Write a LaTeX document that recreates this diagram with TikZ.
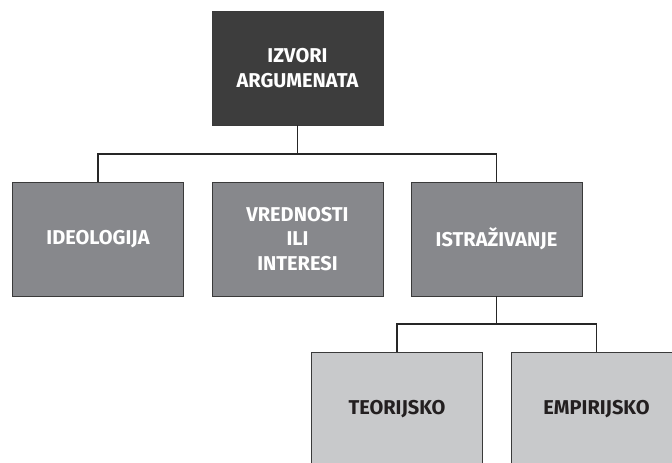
\documentclass[tikz,border=0pt]{standalone}
\usepackage{fontspec}
\setmainfont{Fira Sans}
\definecolor{topfill}{HTML}{3D3D3D}
\definecolor{midfill}{HTML}{87888C}
\definecolor{lowfill}{HTML}{C8C9CB}
\definecolor{edge}{HTML}{3A3A3A}
\definecolor{lowtext}{HTML}{231F20}
\begin{document}
\begin{tikzpicture}[x=1pt,y=-1pt,
  box/.style={draw=edge,line width=0.9pt,minimum width=171pt,minimum height=114pt,
    align=center,inner sep=0pt,font=\fontsize{20}{24.5}\selectfont\bfseries},
  topbox/.style={box,fill=topfill,text=white},
  midbox/.style={box,fill=midfill,text=white},
  lowbox/.style={box,fill=lowfill,text=lowtext},
  link/.style={draw=black!85,line width=1.3pt}]
\useasboundingbox (0,0) rectangle (672,463);
\clip (0,0) rectangle (672,463);
\node[topbox] (root) at (297.5,68) {IZVORI\\ARGUMENATA};
\node[midbox] (ideo) at (98,239) {IDEOLOGIJA};
\node[midbox] (vred) at (297.5,239) {VREDNOSTI\\ILI\\INTERESI};
\node[midbox] (istr) at (496.5,239) {ISTRAŽIVANJE};
\node[lowbox] (teor) at (397,409) {TEORIJSKO};
\node[lowbox] (empi) at (596.5,409) {EMPIRIJSKO};
\coordinate (hub1) at (0,154);
\coordinate (hub2) at (0,324);
\draw[link] (root.south) -- (root.south |- hub1);
\draw[link] (ideo.north) |- (hub1 -| istr.north) -- (istr.north);
\draw[link] (istr.south) -- (istr.south |- hub2);
\draw[link] (teor.north) |- (hub2 -| empi.north) -- (empi.north);
\end{tikzpicture}
\end{document}
